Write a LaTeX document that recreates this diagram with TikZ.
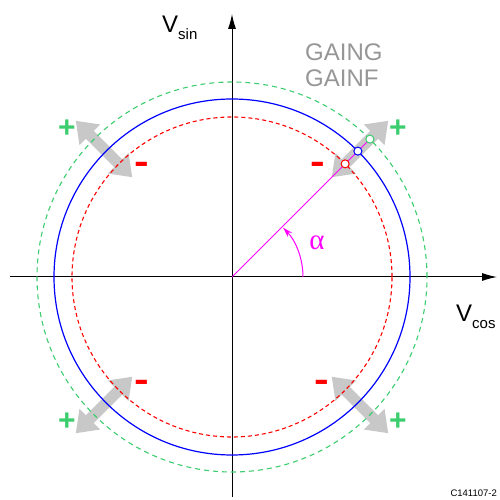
\documentclass[tikz,border=0pt]{standalone}
\usepackage{fontspec}
\setmainfont{Liberation Sans}
\newfontfamily\seriffont{Liberation Serif}
\usetikzlibrary{arrows.meta}
\definecolor{cgreen}{RGB}{60,205,110}
\definecolor{cgray}{RGB}{200,200,200}
\definecolor{ctext}{RGB}{150,150,150}
\definecolor{cmag}{RGB}{255,0,255}
\tikzset{
  axis/.style={black, line width=1pt, -{Latex[length=15pt,width=8pt]}},
  bluecirc/.style={blue, line width=1.2pt},
  redcirc/.style={red, line width=1.1pt, dash pattern=on 4pt off 3pt},
  greencirc/.style={cgreen, line width=1.1pt, dash pattern=on 5pt off 4pt},
  grayarrow/.style={cgray, line width=11pt, {Triangle[length=20pt,width=28pt]}-{Triangle[length=20pt,width=28pt]}},
  dot/.style={circle, fill=white, draw, line width=1pt, minimum size=8pt, inner sep=0pt},
  plussign/.style={text=cgreen, font=\fontsize{30}{30}\selectfont\bfseries, inner sep=0pt},
  minussign/.style={text=red, font=\fontsize{22}{22}\selectfont\bfseries, inner sep=0pt},
  gaintext/.style={text=ctext, font=\fontsize{24}{24}\selectfont, anchor=west, inner sep=0pt},
}
\begin{document}
\begin{tikzpicture}[x=1pt,y=1pt]
\useasboundingbox (0,0) rectangle (499,500);
\coordinate (O) at (232,223);
\coordinate (xl) at (10,223);
\coordinate (xr) at (497,223);
\coordinate (yb) at (232,3);
\coordinate (yt) at (232,486);
% gray arrows
\foreach \a in {45,135,225,315}{
  \draw[grayarrow] ([shift={(\a:141)}]O) -- ([shift={(\a:221)}]O);
}
% axes
\draw[axis] (xl) -- (xr);
\draw[axis] (yb) -- (yt);
% circles
\draw[greencirc] (O) circle[radius=195];
\draw[bluecirc] (O) circle[radius=178];
\draw[redcirc] (O) circle[radius=160];
% magenta vector
\coordinate (P) at ([shift={(45:195)}]O);
\draw[cmag, line width=1pt] (O) -- (P);
\draw[cmag, line width=1pt, -{Stealth[length=10pt,width=6pt]}] ([shift={(0:71)}]O) arc[start angle=0, end angle=44, radius=71];
\node[dot, draw=cgreen] (dg) at ([shift={(45:195)}]O) {};
\node[dot, draw=blue] (db) at ([shift={(45:178)}]O) {};
\node[dot, draw=red] (dr) at ([shift={(45:160)}]O) {};
% labels
\node[text=cmag, font=\seriffont\fontsize{29}{29}\selectfont, inner sep=0pt] (alpha) at (317,257) {α};
\node[plussign] (p1) at (67,371) {+};
\node[plussign] (p2) at (398,371) {+};
\node[plussign] (p3) at (67,78) {+};
\node[plussign] (p4) at (398,78) {+};
\node[minussign] (m1) at (142,332) {\scalebox{2.0}[1.6]{-}};
\node[minussign] (m2) at (318,332) {\scalebox{2.0}[1.6]{-}};
\node[minussign] (m3) at (142,114) {\scalebox{2.0}[1.6]{-}};
\node[minussign] (m4) at (322,114) {\scalebox{2.0}[1.6]{-}};
\node[gaintext] (g1) at (305,448) {GAING};
\node[gaintext] (g2) at (305,422) {GAINF};
\node[anchor=base west, inner sep=0pt] (vsin) at (162,467) {\fontsize{24}{24}\selectfont V\raisebox{-7pt}{\fontsize{15}{15}\selectfont sin}};
\node[anchor=base west, inner sep=0pt] (vcos) at (456,178) {\fontsize{24}{24}\selectfont V\raisebox{-7pt}{\fontsize{15}{15}\selectfont cos}};
\node[anchor=base east, inner sep=0pt, font=\fontsize{9.5}{9.5}\selectfont] (code) at (497,3) {C141107-2};
\end{tikzpicture}
\end{document}
